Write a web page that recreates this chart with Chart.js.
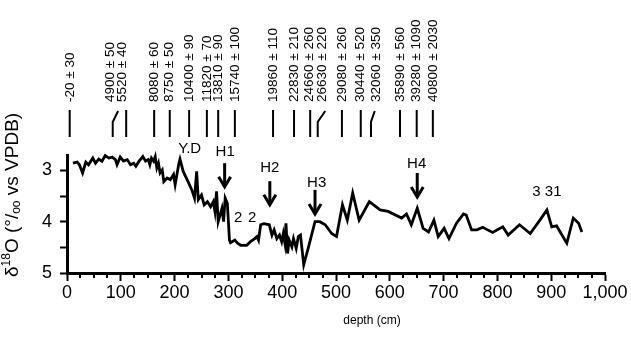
<!DOCTYPE html>
<html>
<head>
<meta charset="utf-8">
<script src="https://cdn.jsdelivr.net/npm/chart.js@4"></script>
<style>
  html, body { margin: 0; padding: 0; background: #fff; }
  #wrap { width: 631px; height: 339px; position: relative; }
</style>
</head>
<body>
<div id="wrap"><canvas id="chart"></canvas></div>
<script>
// core depth (cm) and d18O (per mil vs VPDB)
const depths = [
    11, 19, 23, 29, 35, 40, 48, 53, 59, 65, 71, 78, 84, 90, 93, 99, 105, 112, 118, 124,
    128, 134, 141, 146, 151, 154, 157, 161, 164, 167, 170, 173, 177, 180, 186, 192, 198, 201, 208, 210,
    216, 225, 232, 237, 241, 244, 250, 255, 261, 267, 272, 275, 278, 281, 288, 291, 294, 298, 302, 304,
    312, 317, 323, 334, 341, 349, 353, 356, 360, 366, 376, 381, 385, 390, 395, 399, 402, 405, 407, 410,
    413, 418, 421, 426, 430, 434, 440, 449, 461, 470, 480, 492, 501, 512, 521, 531, 543, 562, 582, 597,
    622, 631, 640, 651, 662, 672, 682, 690, 701, 710, 724, 737, 742, 752, 762, 773, 780, 791, 810, 820,
    841, 861, 879, 892, 901, 910, 920, 929, 941, 951, 957
];
const d18O = [
    2.86, 2.84, 2.89, 3.05, 2.84, 2.89, 2.76, 2.86, 2.78, 2.82, 2.71, 2.76, 2.74, 2.79, 2.89, 2.74, 2.82, 2.79, 2.89, 2.86,
    2.92, 2.82, 2.73, 2.82, 2.79, 2.89, 2.76, 2.82, 2.73, 2.95, 2.86, 3.05, 2.99, 3.22, 3.15, 3.18, 3.08, 3.28, 2.86, 2.78,
    3.02, 3.22, 3.38, 3.54, 3.02, 3.57, 3.48, 3.67, 3.61, 3.71, 3.61, 3.80, 3.41, 4.00, 3.74, 4.00, 3.54, 3.64, 4.36, 4.41,
    4.36, 4.42, 4.46, 4.46, 4.39, 4.33, 4.29, 4.36, 4.06, 4.04, 4.06, 4.26, 4.16, 4.33, 4.26, 4.39, 4.23, 4.42, 4.03, 4.62,
    4.36, 4.49, 4.33, 4.52, 4.29, 4.26, 4.84, 4.49, 4.00, 4.00, 4.06, 4.23, 4.29, 3.67, 3.97, 3.44, 3.97, 3.61, 3.77, 3.80,
    3.93, 3.85, 4.06, 3.74, 4.13, 4.20, 3.97, 4.29, 4.13, 4.33, 4.03, 3.85, 3.87, 4.16, 4.16, 4.11, 4.15, 4.21, 4.10, 4.26,
    4.06, 4.23, 3.97, 3.77, 4.10, 4.08, 4.26, 4.42, 3.93, 4.03, 4.20
];

const xTickValues = [0, 100, 200, 300, 400, 500, 600, 700, 800, 900, 1000];
const xTickLabels = ['0', '100', '200', '300', '400', '500', '600', '700', '800', '900', '1,000'];
const yTickValues = [3, 3.5, 4, 4.5, 5];
const yTickLabels = ['3', '', '4', '', '5'];

// radiocarbon ages along the top: text depth, leader depth at bottom and at top
const ageLabels = [
    '-20 \u00b1 30', '4900 \u00b1 50', '5520 \u00b1 40', '8080 \u00b1 60', '8750 \u00b1 50',
    '10400 \u00b1 90', '11820 \u00b1 70', '13810 \u00b1 90', '15740 \u00b1 100', '19860 \u00b1 110',
    '22830 \u00b1 210', '24660 \u00b1 260', '26630 \u00b1 220', '29080 \u00b1 260', '30440 \u00b1 520',
    '32060 \u00b1 350', '35890 \u00b1 560', '39280 \u00b1 1090', '40800 \u00b1 2030'
];
const ageTextDepth = [7, 80, 102, 162, 191, 227, 260, 281, 312, 383, 422, 451, 475, 511, 546, 574, 619, 650, 680];
const ageDepthLow = [5, 85, 110, 162, 191, 227, 260, 281, 312, 383, 422, 452, 466, 511, 546, 565, 619, 650, 680];
const ageDepthHigh = [5, 95, 110, 162, 191, 227, 260, 281, 312, 383, 422, 452, 480, 511, 546, 572, 619, 650, 680];

// event labels (depth, d18O position)
const eventLabels = ['Y.D', 'H1', 'H2', 'H3', 'H4', '2', '2', '3 31'];
const eventDepths = [228, 294, 377, 464, 650, 318, 344, 892];
const eventLevels = [2.59, 2.64, 2.95, 3.24, 2.88, 3.93, 3.93, 3.41];
// arrows under H1..H4
const arrowDepths = [293, 377, 461, 651];
const arrowFrom = [2.86, 3.21, 3.38, 3.05];
const arrowTo = [3.32, 3.67, 3.85, 3.52];

const FONT = "'Liberation Sans', Arial, sans-serif";

const extras = {
    id: 'extras',
    afterDraw(chart) {
        const ctx = chart.ctx;
        const xs = chart.scales.x;
        const ys = chart.scales.y;
        const bottom = chart.chartArea.bottom;
        ctx.save();
        ctx.strokeStyle = '#000';
        ctx.fillStyle = '#000';

        // minor x ticks every 25 cm
        ctx.lineWidth = 2;
        for (let v = 25; v < 1000; v += 25) {
            if (v % 100 === 0) continue;
            const px = Math.round(xs.getPixelForValue(v));
            ctx.beginPath();
            ctx.moveTo(px, bottom);
            ctx.lineTo(px, bottom + 5);
            ctx.stroke();
        }

        // age labels and leaders
        ctx.font = '13.5px ' + FONT;
        ctx.lineWidth = 2;
        ageLabels.forEach((t, i) => {
            const xl = xs.getPixelForValue(ageDepthLow[i]);
            const xh = xs.getPixelForValue(ageDepthHigh[i]);
            ctx.beginPath();
            if (xl !== xh) {
                ctx.moveTo(xl, 137);
                ctx.lineTo(xl, 122);
                ctx.lineTo(xh, 111);
            } else {
                ctx.moveTo(xl, 137);
                ctx.lineTo(xl, 110);
            }
            ctx.stroke();
            ctx.save();
            ctx.translate(xs.getPixelForValue(ageTextDepth[i]), 102);
            ctx.rotate(-Math.PI / 2);
            ctx.textAlign = 'left';
            ctx.textBaseline = 'middle';
            ctx.fillText(t, 0, 0);
            ctx.restore();
        });

        // event labels
        ctx.font = '15px ' + FONT;
        ctx.textAlign = 'center';
        ctx.textBaseline = 'middle';
        eventLabels.forEach((t, i) => {
            ctx.fillText(t, xs.getPixelForValue(eventDepths[i]), ys.getPixelForValue(eventLevels[i]));
        });

        // arrows
        ctx.lineWidth = 3;
        ctx.lineCap = 'butt';
        arrowDepths.forEach((d, i) => {
            const px = xs.getPixelForValue(d);
            const y0 = ys.getPixelForValue(arrowFrom[i]);
            const y1 = ys.getPixelForValue(arrowTo[i]);
            ctx.beginPath();
            ctx.moveTo(px, y0);
            ctx.lineTo(px, y1 - 2);
            ctx.stroke();
            ctx.beginPath();
            ctx.moveTo(px - 6, y1 - 10);
            ctx.lineTo(px, y1);
            ctx.lineTo(px + 6, y1 - 10);
            ctx.stroke();
        });

        // x axis title
        ctx.font = '12px ' + FONT;
        ctx.textAlign = 'center';
        ctx.textBaseline = 'middle';
        ctx.fillText('depth (cm)', 372, 321);

        // y axis title with super/subscripts
        const parts = [
            ['\u03b4', 19, 0], ['18', 12, -6], ['O (', 19, 0], ['\u00b0', 19, 0],
            ['/', 19, 0], ['oo', 12, 4], [' vs VPDB)', 19, 0]
        ];
        ctx.save();
        ctx.translate(13, 277);
        ctx.rotate(-Math.PI / 2);
        ctx.textAlign = 'left';
        ctx.textBaseline = 'middle';
        let u = 0;
        parts.forEach(([s, size, dy]) => {
            ctx.font = size + 'px ' + FONT;
            ctx.fillText(s, u, dy);
            u += ctx.measureText(s).width;
        });
        ctx.restore();

        ctx.restore();
    }
};

new Chart(document.getElementById('chart'), {
    type: 'line',
    data: {
        datasets: [{
            data: depths.map((d, i) => ({ x: d, y: d18O[i] })),
            borderColor: '#000',
            borderWidth: 2.8,
            pointRadius: 0,
            tension: 0,
            fill: false,
            clip: false
        }]
    },
    options: {
        responsive: true,
        maintainAspectRatio: false,
        animation: false,
        layout: { padding: { top: 155, right: 26, left: 0, bottom: 0 } },
        plugins: { legend: { display: false }, tooltip: { enabled: false } },
        scales: {
            x: {
                type: 'linear',
                min: 0,
                max: 1000,
                afterBuildTicks: (s) => { s.ticks = xTickValues.map((v) => ({ value: v })); },
                afterFit: (s) => { s.height = 66; },
                ticks: {
                    callback: (v, i) => xTickLabels[i],
                    font: { size: 18, family: FONT },
                    color: '#000',
                    padding: 1,
                    maxRotation: 0,
                    autoSkip: false
                },
                grid: { drawOnChartArea: false, tickLength: 8, tickWidth: 2, color: '#000' },
                border: { color: '#000', width: 3 }
            },
            y: {
                reverse: true,
                min: 2.7,
                max: 5,
                afterBuildTicks: (s) => { s.ticks = yTickValues.map((v) => ({ value: v })); },
                afterFit: (s) => { s.width = 67; },
                ticks: {
                    callback: (v, i) => yTickLabels[i],
                    font: { size: 18, family: FONT },
                    color: '#000',
                    padding: 8,
                    autoSkip: false
                },
                grid: { drawOnChartArea: false, tickLength: 7, tickWidth: 2, color: '#000' },
                border: { color: '#000', width: 3 }
            }
        }
    },
    plugins: [extras]
});
</script>
</body>
</html>
